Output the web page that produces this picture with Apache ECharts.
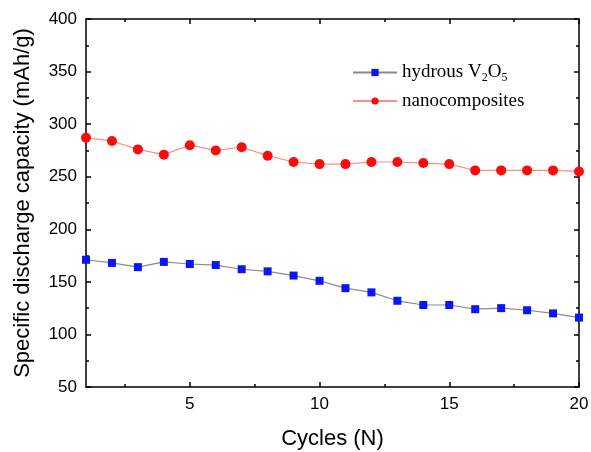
<!DOCTYPE html>
<html>
<head>
<meta charset="utf-8">
<script src="https://cdn.jsdelivr.net/npm/echarts@6/dist/echarts.min.js"></script>
<style>html,body{margin:0;padding:0;background:#fff}#c{width:591px;height:452px}</style>
</head>
<body>
<div id="c"></div>
<script>
const cycles = [1,2,3,4,5,6,7,8,9,10,11,12,13,14,15,16,17,18,19,20];
const hydrousV2O5 = [171,168,164,169,167,166,162,160,156,151,144,140,132,128,128,124,125,123,120,116];
const nanocomposites = [287,284,276,271,280,275,278,270,264,262,262,264,264,263,262,256,256,256,256,255];
const xMajorTicks = [5,10,15,20];
const xMinorTicks = [2.5,7.5,12.5,17.5];
const seriesNames = ['hydrous V2O5','nanocomposites'];

const chart = echarts.init(document.getElementById('c'), null, {renderer:'canvas'});
const axisLine = {show:true, lineStyle:{color:'#000', width:1.5}};
const sans = 'Liberation Sans, Arial, sans-serif';
const serif = 'Liberation Serif, Times New Roman, serif';
function xAx(extra){
  return Object.assign({type:'value', min:1, max:20, axisLine:axisLine, splitLine:{show:false}}, extra);
}
function yAx(extra){
  return Object.assign({type:'value', min:50, max:400, interval:50, axisLine:axisLine, splitLine:{show:false}}, extra);
}
const option = {
  backgroundColor:'#fff',
  animation:false,
  grid:{left:86, right:12, top:19, bottom:65, containLabel:false, outerBoundsMode:'none'},
  legend:{
    orient:'vertical', left:347, top:58, itemGap:8, itemWidth:44, itemHeight:9,
    data: seriesNames,
    formatter: function(n){ return n === 'hydrous V2O5' ? 'hydrous V{sub|2}O{sub|5}' : n; },
    textStyle:{fontFamily:serif, fontSize:19, color:'#000',
      rich:{sub:{fontFamily:serif, fontSize:12, color:'#000', padding:[10,0,0,0]}}}
  },
  xAxis:[
    xAx({position:'bottom', name:'Cycles (N)', nameLocation:'middle', nameGap:41,
      nameTextStyle:{fontFamily:sans, fontSize:22, color:'#000'},
      axisTick:{show:true, inside:true, length:5, customValues:xMajorTicks, lineStyle:{color:'#000', width:1.5}},
      axisLabel:{show:true, customValues:xMajorTicks, fontFamily:sans, fontSize:17, color:'#000', margin:9}}),
    xAx({position:'bottom', axisLine:{show:false},
      axisTick:{show:true, inside:true, length:3, customValues:xMinorTicks, lineStyle:{color:'#000', width:1.5}},
      axisLabel:{show:false}}),
    xAx({position:'top',
      axisTick:{show:true, inside:true, length:5, customValues:xMajorTicks, lineStyle:{color:'#000', width:1.5}},
      axisLabel:{show:false}}),
    xAx({position:'top', axisLine:{show:false},
      axisTick:{show:true, inside:true, length:3, customValues:xMinorTicks, lineStyle:{color:'#000', width:1.5}},
      axisLabel:{show:false}})
  ],
  yAxis:[
    yAx({position:'left', name:'Specific discharge capacity (mAh/g)', nameLocation:'middle', nameGap:52,
      nameTextStyle:{fontFamily:sans, fontSize:22, color:'#000'},
      axisTick:{show:true, inside:true, length:5, lineStyle:{color:'#000', width:1.5}},
      minorTick:{show:true, splitNumber:2, length:3, lineStyle:{color:'#000', width:1.5}},
      axisLabel:{fontFamily:sans, fontSize:17, color:'#000', margin:9}}),
    yAx({position:'right',
      axisTick:{show:true, inside:true, length:5, lineStyle:{color:'#000', width:1.5}},
      minorTick:{show:true, splitNumber:2, length:3, lineStyle:{color:'#000', width:1.5}},
      axisLabel:{show:false}})
  ],
  series:[
    {name:seriesNames[0], type:'line', xAxisIndex:0, yAxisIndex:0,
      data: cycles.map((c,i)=>[c, hydrousV2O5[i]]),
      symbol:'rect', symbolSize:8, showAllSymbol:true,
      lineStyle:{color:'#8a8a8a', width:1.2}, itemStyle:{color:'#0a14ff'}, z:3},
    {name:seriesNames[1], type:'line', xAxisIndex:0, yAxisIndex:0,
      data: cycles.map((c,i)=>[c, nanocomposites[i]]),
      symbol:'circle', symbolSize:10, showAllSymbol:true,
      lineStyle:{color:'#ff8c8c', width:1.2}, itemStyle:{color:'#ff0a0a'}, z:3}
  ]
};
chart.setOption(option);
</script>
</body>
</html>
